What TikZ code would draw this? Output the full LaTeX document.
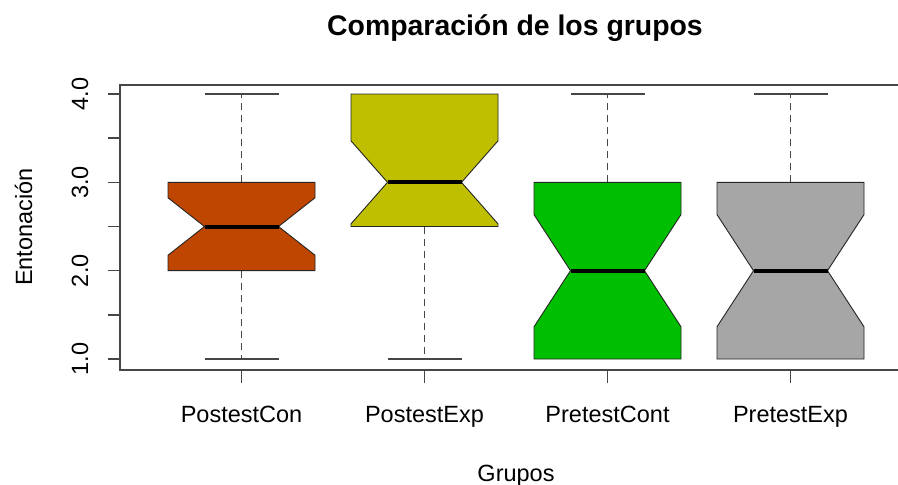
\documentclass[tikz,border=0pt]{standalone}
\usepackage{fontspec}
\setmainfont{Liberation Sans}
\definecolor{boxA}{RGB}{191,70,0}
\definecolor{boxB}{RGB}{191,191,0}
\definecolor{boxC}{RGB}{0,191,0}
\definecolor{boxD}{RGB}{166,166,166}
\definecolor{axisgray}{RGB}{70,70,70}
\tikzset{
  frameline/.style={draw=axisgray, line width=1.4pt},
  boxline/.style={draw=black!85, line width=0.9pt},
  medline/.style={draw=black, line width=4pt},
  whisk/.style={draw=axisgray, line width=1.1pt, dash pattern=on 7pt off 5pt},
  capline/.style={draw=axisgray, line width=1.3pt},
  lbl/.style={inner sep=0pt, font=\fontsize{23.5}{28}\selectfont},
}
\newcommand{\notchbox}[7]{%
  \filldraw[boxline, fill=#7] (#1-73.5,#2) -- (#1-73.5,#5) -- (#1-37,#4) -- (#1-73.5,#6) -- (#1-73.5,#3)
    -- (#1+73.5,#3) -- (#1+73.5,#6) -- (#1+37,#4) -- (#1+73.5,#5) -- (#1+73.5,#2) -- cycle;
  \draw[medline] (#1-37,#4) -- (#1+37,#4);}
\begin{document}
\begin{tikzpicture}[x=1pt, y=-1pt]
\useasboundingbox (0,0) rectangle (898,485);
\fill[white] (0,0) rectangle (898,485);
% title
\node[inner sep=0pt, anchor=base, font=\fontsize{28.4}{34}\selectfont\bfseries] (title) at (515,35) {Comparación de los grupos};
% data scope: y in data units
\begin{scope}[shift={(0,447.33)}, y=88.33pt]
  % whiskers
  \draw[whisk] (241.5,3) -- (241.5,4);
  \draw[whisk] (241.5,2) -- (241.5,1);
  \draw[capline] (204.5,4) -- (278.5,4);
  \draw[capline] (204.5,1) -- (278.5,1);
  \draw[whisk] (424.5,2.5) -- (424.5,1);
  \draw[capline] (387.5,1) -- (461.5,1);
  \draw[whisk] (607.5,3) -- (607.5,4);
  \draw[capline] (570.5,4) -- (644.5,4);
  \draw[whisk] (790.5,3) -- (790.5,4);
  \draw[capline] (753.5,4) -- (827.5,4);
  % boxes
  \notchbox{241.5}{2}{3}{2.5}{2.175}{2.825}{boxA}
  \notchbox{424.5}{2.5}{4}{3}{2.53}{3.47}{boxB}
  \notchbox{607.5}{1}{3}{2}{1.365}{2.635}{boxC}
  \notchbox{790.5}{1}{3}{2}{1.365}{2.635}{boxD}
  % y ticks
  \foreach \v in {1,1.5,...,4} \draw[frameline] (108,\v) -- (120,\v);
  \foreach \v in {1,2,3,4}
    \node[lbl, rotate=90, anchor=base] (yl\v) at (88,\v) {\v.0};
\end{scope}
% frame (right edge lies outside the picture)
\draw[frameline] (898,85) -- (120,85) -- (120,370) -- (898,370);
% x ticks and labels
\foreach \x/\n/\t in {241.5/a/PostestCon, 424.5/b/PostestExp, 607.5/c/PretestCont, 790.5/d/PretestExp}{
  \draw[frameline] (\x,370) -- (\x,383);
  \node[lbl, anchor=base] (xl\n) at (\x,422) {\t};
}
\node[lbl, anchor=base] (xlab) at (516,481) {Grupos};
\node[lbl, rotate=90, anchor=base] (ylab) at (32,227) {Entonación};
\end{tikzpicture}
\end{document}
